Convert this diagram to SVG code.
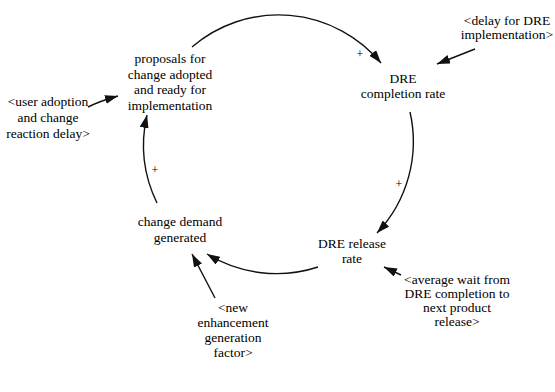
<svg xmlns="http://www.w3.org/2000/svg" width="555" height="392" viewBox="0 0 555 392">
<defs>
<marker id="ah" markerUnits="userSpaceOnUse" markerWidth="13" markerHeight="9" refX="13" refY="4.5" orient="auto">
<path d="M0,0 L13,4.5 L0,9 z" fill="#111"/>
</marker>
</defs>
<style>
.c{fill:none;stroke:#111;stroke-width:1.4;marker-end:url(#ah)}
</style>
<rect width="555" height="392" fill="#fff"/>
<g id="connectors">
<path class="c" d="M192,47 A133,133 0 0,1 381,63"/>
<path class="c" d="M410,112 A133,133 0 0,1 377,233"/>
<path class="c" d="M318,267 A133,133 0 0,1 207,254"/>
<path class="c" d="M157,203 A133,133 0 0,1 147,115"/>
<path class="c" d="M88,107 Q100,101 118,96"/>
<path class="c" d="M475,49 L437,64"/>
<path class="c" d="M401,275 L384,267"/>
<path class="c" d="M215,298 L192,254"/>
</g>
<g font-family="Liberation Serif, serif" font-size="13.5" text-anchor="middle" fill="#000">
<g font-size="12">
<text x="360" y="58">+</text>
<text x="399" y="188">+</text>
<text x="155" y="174">+</text>
</g>
<g id="proposals">
<text x="170" y="63">proposals for</text>
<text x="170" y="78.5">change adopted</text>
<text x="170" y="94">and ready for</text>
<text x="170" y="109.5">implementation</text>
</g>
<g id="dre-completion">
<text x="403" y="83">DRE</text>
<text x="403" y="97.5">completion rate</text>
</g>
<g id="delay-dre">
<text x="507" y="24.5">&lt;delay for DRE</text>
<text x="507" y="39">implementation&gt;</text>
</g>
<g id="user-adoption">
<text x="48" y="106">&lt;user adoption</text>
<text x="48" y="122">and change</text>
<text x="48" y="138">reaction delay&gt;</text>
</g>
<g id="dre-release">
<text x="352" y="247.5">DRE release</text>
<text x="352" y="262.5">rate</text>
</g>
<g id="average-wait">
<text x="457" y="283.5">&lt;average wait from</text>
<text x="457" y="297.5">DRE completion to</text>
<text x="457" y="311.5">next product</text>
<text x="457" y="325.5">release&gt;</text>
</g>
<g id="change-demand">
<text x="180" y="225.5">change demand</text>
<text x="180" y="241.5">generated</text>
</g>
<g id="new-enhancement">
<text x="233" y="311.5">&lt;new</text>
<text x="233" y="326.5">enhancement</text>
<text x="233" y="341.5">generation</text>
<text x="233" y="356.5">factor&gt;</text>
</g>
</g>
</svg>
